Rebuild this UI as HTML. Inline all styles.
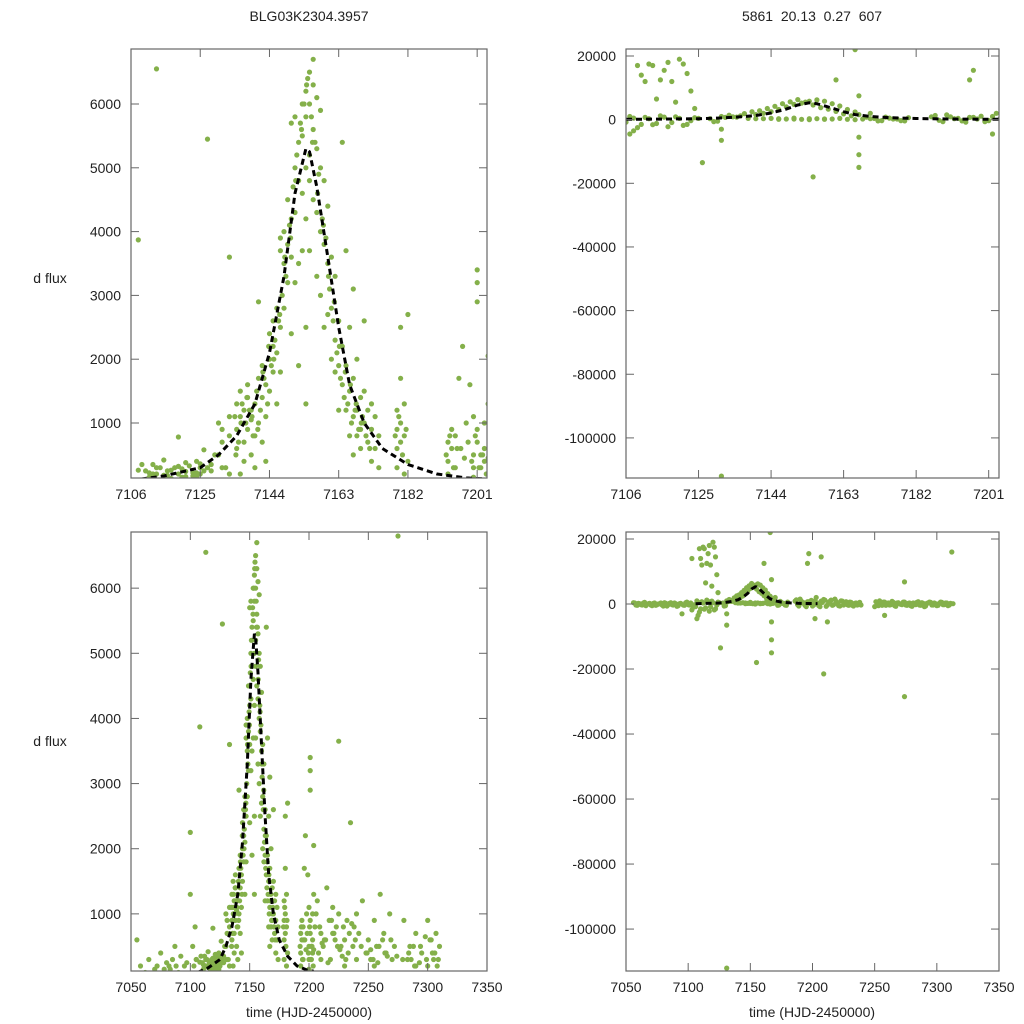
<!DOCTYPE html>
<html><head><meta charset="utf-8">
<style>
html,body{margin:0;padding:0;background:#fff;}
svg{display:block;font-family:"Liberation Sans",sans-serif;}
</style></head>
<body>
<svg id="fig" width="1024" height="1024" viewBox="0 0 1024 1024" xmlns="http://www.w3.org/2000/svg">
<text x="309" y="21" font-size="14" text-anchor="middle" fill="#222">BLG03K2304.3957</text>
<text x="812" y="21" font-size="14" text-anchor="middle" fill="#222" xml:space="preserve">5861  20.13  0.27  607</text>
<text x="50" y="283" font-size="14" text-anchor="middle" fill="#222">d flux</text>
<text x="50" y="746" font-size="14" text-anchor="middle" fill="#222">d flux</text>
<text x="309" y="1017" font-size="14" text-anchor="middle" fill="#222">time (HJD-2450000)</text>
<text x="812" y="1017" font-size="14" text-anchor="middle" fill="#222">time (HJD-2450000)</text>
</svg>
<script>
// ---- main light curve (left panels) ----
const mainT = [7055,7058,7062,7065,7070,7072,7075,7078,7080,7082,7083,7085,7087,7088,7090,7092,7095,7097,7100,7100,7102,7103,7104,7105,
7108,7110,7111,7112,7113,7114,7115,7115,7116,7117,7118,7119,7120,7121,7122,7123,7124,7124,7125,7125,7126,7113,7119,7121,7126,7127,7128,7130,7131,7130,7131,7133,7133,7133,
7135,7135,7135,7136,7136,7136,7137,7137,7137,7138,7138,7138,7139,7139,7139,7140,7140,7140,7141,7141,7141,7142,7142,7142,7143,7143,7143,7144,7144,7144,7145,7145,7145,7146,7146,7146,7147,7147,7147,7147,7148,7148,7148,7149,7149,7149,7150,7150,7150,7150,
7151,7151,7151,7151,7152,7152,7152,7152,7153,7153,7153,7153,7154,7154,7154,7154,7154,7154,7155,7155,7155,7155,7155,7156,7156,7156,7156,7157,7157,7157,7157,7158,7158,7158,7158,7159,7159,7159,7160,7160,7160,7161,7161,7161,7162,7162,7162,7163,7163,7163,
7164,7164,7164,7165,7165,7165,7166,7166,7166,7167,7167,7167,7167,7168,7168,7168,7169,7169,7169,7170,7170,7170,7171,7171,7172,7172,7172,7173,7173,7174,7174,
7179,7179,7179,7179,7180,7180,7180,7181,7181,7181,7180,7182,7182,7193,7193,7193,7194,7194,7195,7195,7196,7197,7200,7200,7200,7200,7201,7201,7201,7201,7201,7202,7202,7203,7203,7203,7204,7204,7199,7198,
7205,7207,7210,7212,7215,7217,7220,7222,7225,7225,7227,7230,7233,7235,7238,7240,7242,7245,7248,7250,7252,7255,7257,7260,7263,7265,7268,7270,7272,7275,7280,7283,7285,7290,7295,7300,7303,7305,7307,7310,
7230,7240,7255,7210,7220,7290,7300,7208,7213,7218,7223,7228,7232,7237,7252,7258,7262,7266,7286,7288,7293,7298,7304,7309,7211,7216,7221,7226,7231,7236,
7134.5,7135.5,7136.5,7137.5,7138.5,7139.5,7140.5,7141.5,7142.5,7143.5,7144.5,7145.5,7146.5,7147.5,7148.5,7149.5,7150.5,7151.5,7152.5,7153.5,7154.5,7155.5,7156.5,7157.5,7158.5,7159.5,7160.5,7161.5,7162.5,7163.5,7164.5,7165.5,7166.5,7167.5,7168.5,7169.5,7170.5,7171.5,
7134.8,7136.2,7137.8,7139.2,7140.8,7142.2,7143.8,7145.2,7146.8,7148.2,7149.8,7151.2,7152.8,7154.2,7155.8,7157.2,7158.8,7160.2,7161.8,7163.2,7164.8,7166.2,7167.8,7169.2,
7109,7111,7113,7115,7117,7119,7121,7123,7125,7127,7129,7131,7133,7178.5,7179.5,7180.5,7181.5,7192.5,7193.5,7194.5,7195.5,7198.5,7199.5,7200.5,7201.5,7202.5,7203.5,7197.5,7196.5,
7105,7108,7112,7116,7120,7124,7128,7132,7204,7206,7209,7214,7219,7224,7229,7234,7239,7244,7249,7254,7259,7264,7269,7274,7279,7284,7289,7294,7299,7302,7306,7308];
const mainF = [600,200,100,300,150,200,400,150,250,200,150,300,500,200,100,350,200,250,1300,2250,500,200,800,300,
3870,250,150,350,200,300,420,180,250,130,300,200,280,160,330,220,400,150,300,200,250,6550,780,380,580,5450,350,1000,700,500,300,3600,800,200,
1300,900,600,1500,1100,200,1200,700,400,1400,900,1600,1200,500,1050,800,1300,300,1700,1000,2900,1400,700,1900,1600,1100,400,1500,2000,2400,2600,1800,2200,2100,1300,2800,2500,1800,3700,3900,3500,2800,4000,3800,3200,4500,3600,2400,4200,5700,
4300,3200,5800,5000,4800,5400,3500,1900,5500,6000,4600,3700,6200,5800,5000,4200,1300,2500,6500,6000,5200,4800,3700,6700,6300,5600,4500,6100,5300,4300,3300,5900,5000,4000,3000,4800,3800,2500,4400,3500,2700,3600,2800,2000,3300,2300,1800,2600,1900,1200,
2200,1600,5400,1900,1200,3700,1500,2500,800,1700,1100,500,3100,1200,2000,800,1400,900,600,1000,1500,2600,1200,700,900,1300,400,1100,600,800,300,
1200,900,600,300,1000,700,1700,1300,800,200,2500,2700,400,700,400,200,900,600,800,300,1700,2200,1100,500,300,150,900,3400,3200,2900,700,500,300,1000,600,400,1300,2050,1600,1000,
800,1200,700,500,1400,900,700,600,3650,1000,500,600,400,2400,800,300,700,1200,400,600,300,900,500,1300,700,400,1000,300,500,6800,900,300,500,700,400,900,600,300,700,500,
200,1000,200,300,1100,200,200,400,600,300,800,350,900,500,450,250,600,350,300,500,250,650,400,300,550,250,700,450,300,850,
1100,700,1300,1000,1200,800,1500,1200,1700,1300,1900,2300,2600,3000,3300,4100,4700,5200,5700,6000,6400,5800,5400,4900,4200,3900,3100,2600,2100,1700,1400,1300,1000,1200,900,1100,800,600,
500,1000,1400,1100,900,1800,2200,2000,2700,3600,3900,4800,5600,6300,5400,4600,4100,3300,2900,2200,1800,1600,1300,1000,
350,220,300,180,260,320,240,170,360,300,500,900,1100,800,1100,500,900,500,800,300,600,700,400,800,300,500,200,450,600,
300,260,200,180,150,220,250,300,450,1000,800,600,900,500,800,700,600,500,400,300,500,400,600,350,300,400,200,500,300,600,400,200];
// ---- model curve ----
const modelT = [7106,7115,7125,7130,7135,7140,7144,7148,7151,7154,7155,7157,7160,7163,7166,7170,7175,7182,7190,7198,7204];
const modelF = [100,170,300,500,800,1300,2100,3300,4600,5300,5250,4700,3600,2500,1600,1000,600,350,200,140,120];
// ---- secondary band (right panels) ----
const altT = [7056,7058,7060,7062,7064,7066,7068,7070,7072,7074,7076,7078,7080,7082,7084,7086,7088,7090,7092,7094,7096,7098,7100,7102,7104,
7106,7108,7110,7112,7114,7116,7118,7120,7122,7124,7128,7130,7132,7134,7136,7138,7140,7142,7144,7146,7148,7150,7152,7154,7156,7158,7160,7162,7164,7166,7146,7150,7154,7158,7162,7166,7170,
7170,7172,7174,7176,7178,7180,7186,7188,7190,7192,7194,7196,7198,7200,7202,7204,7206,7208,7210,7212,7214,7216,7218,7220,7222,7224,7226,7228,7230,7232,7234,7236,7238,
7250,7252,7254,7256,7258,7260,7262,7264,7266,7268,7270,7272,7274,7276,7278,7280,7282,7284,7286,7288,7290,7292,7294,7296,7298,7300,7302,7304,7306,7308,7310,7312,
7109,7110,7112,7113,7116,7117,7120,7121,7122,7123,7111,7114,7115,7118,7119,7124,7108,7107,7126,7131,7131,7131,7155,7161,7167,7167,7167,7167,7166,7197,7196,7209,7212,7202,7207,7274,7274,7258,7095,7103,7105,
7057,7059,7061,7063,7065,7067,7069,7071,7073,7075,7077,7079,7081,7083,7085,7087,7089,7091,7093,7097,7099,7101,7103,7107,7109,7111,7113,7115,7117,7119,7121,7123,7125,7129,7131,7133,7135,7137,7139,7141,7143,7145,7147,7149,7151,7153,7155,7157,7159,7161,7163,7165,7167,7169,7171,7173,7175,7177,7179,7187,7189,7191,7193,7195,7197,7199,7201,7203,7205,7207,7209,7211,7213,7215,7217,7219,7221,7223,7225,7227,7229,7231,7233,7235,7237,7239,
7251,7253,7255,7257,7259,7261,7263,7265,7267,7269,7271,7273,7275,7277,7279,7281,7283,7285,7287,7289,7291,7293,7295,7297,7299,7301,7303,7305,7307,7309,7311,7313,
7140,7144,7148,7152,7156,7160,7164,7168,7142,7146,7150,7154,7158,7162];
const altF = [400,-300,200,-200,300,-500,100,-300,200,-400,0,300,-600,200,-200,400,-300,100,-500,200,-300,400,-200,300,-1000,
-800,500,-1500,300,-1200,800,-900,400,-1500,600,300,-500,700,900,1200,400,1600,2000,2500,3200,4000,4800,5200,5800,6200,5800,5000,4300,3200,2400,300,500,0,200,400,0,2000,
300,-400,800,200,-300,600,900,-200,1500,300,-400,700,200,-600,1000,300,-800,500,1200,-300,800,-400,1500,200,-600,900,300,-200,600,-400,200,-300,
500,-800,300,1000,-400,600,200,-300,800,-500,300,100,-200,600,-400,300,-700,200,500,-300,400,-800,200,600,-300,300,-500,200,500,-200,300,-300,
16000,17000,14000,17500,17000,15500,18000,19000,17500,14500,9000,12000,6500,12500,12000,5500,3500,-3500,-4500,-13500,-6500,-112000,-3000,-18000,12500,-5500,-11000,-15000,7500,22000,15500,12500,-21500,-5500,-4500,14500,-28500,6800,-3500,-3000,14000,
-200,300,-400,100,-300,500,-100,200,-500,300,-200,100,-300,400,-600,200,-200,300,-700,100,-400,600,-300,-1800,1000,-2500,700,-1600,1200,-2200,900,-1800,-300,400,-600,1000,1400,800,1900,2500,2800,3500,4200,5000,5600,6300,5500,4600,3800,3300,2600,1800,1200,1600,800,400,-300,500,200,-400,1300,-600,900,400,-800,700,1100,-300,2000,-500,900,1400,-700,600,1200,-200,800,-500,1000,-300,700,-400,500,-600,300,200,
-300,700,-500,200,600,-400,300,-200,500,-700,400,-100,600,-300,200,-500,300,-200,700,-400,200,-600,300,500,-300,100,-400,600,-200,300,-500,200,
100,300,400,200,100,300,200,100,200,300,100,200,300,100];

const NS='http://www.w3.org/2000/svg';
const svg=document.getElementById('fig');
function mk(tag,attrs,parent){const e=document.createElementNS(NS,tag);for(const k in attrs)e.setAttribute(k,attrs[k]);(parent||svg).appendChild(e);return e;}

function panel(id,box,xd,yd,xticks,yticks,T,F){
  const sx=v=>box.x0+(v-xd[0])/(xd[1]-xd[0])*(box.x1-box.x0);
  const sy=v=>box.y1-(v-yd[0])/(yd[1]-yd[0])*(box.y1-box.y0);
  const g=mk('g',{});
  
  
  const cp=mk('clipPath',{id:id+'-clip'},g);
  mk('rect',{x:box.x0,y:box.y0,width:box.x1-box.x0,height:box.y1-box.y0},cp);
  const pts=mk('g',{'clip-path':'url(#'+id+'-clip)'},g);
  
  
  const n=Math.min(T.length,F.length);
  for(let i=0;i<n;i++){
    const c=mk('circle',{cx:sx(T[i]).toFixed(1),cy:sy(F[i]).toFixed(1),r:2.6,fill:'#84b04a'},pts);
    
    
  }
  let d='';
  for(let i=0;i<modelT.length;i++){d+=(i?'L':'M')+sx(modelT[i]).toFixed(1)+','+sy(modelF[i]).toFixed(1);}
  const ln=mk('path',{d:d,fill:'none',stroke:'#000','stroke-width':3,'stroke-dasharray':'6,4','clip-path':'url(#'+id+'-clip)'},g);
  
  
  const fr=mk('rect',{x:box.x0,y:box.y0,width:box.x1-box.x0,height:box.y1-box.y0,fill:'none',stroke:'#666','stroke-width':1.2},g);
  
  
  xticks.forEach(v=>{const x=sx(v);
    mk('line',{x1:x,x2:x,y1:box.y1,y2:box.y1-8,stroke:'#666'},g);
    mk('line',{x1:x,x2:x,y1:box.y0,y2:box.y0+8,stroke:'#666'},g);
    const t=mk('text',{x:x,y:box.y1+21,'font-size':14,'text-anchor':'middle',fill:'#222'},g);t.textContent=v;
    
    
  });
  yticks.forEach(v=>{const y=sy(v);
    mk('line',{x1:box.x0,x2:box.x0+8,y1:y,y2:y,stroke:'#666'},g);
    mk('line',{x1:box.x1,x2:box.x1-8,y1:y,y2:y,stroke:'#666'},g);
    const t=mk('text',{x:box.x0-10,y:y+5,'font-size':14,'text-anchor':'end',fill:'#222'},g);t.textContent=v;
    
    
  });
}
const topX=[7106,7125,7144,7163,7182,7201];
const botX=[7050,7100,7150,7200,7250,7300,7350];
const leftY=[1000,2000,3000,4000,5000,6000];
const rightY=[20000,0,-20000,-40000,-60000,-80000,-100000];
panel('top-left',{x0:131,x1:487,y0:49,y1:478},[7106,7203.7],[138,6862],topX,leftY,mainT,mainF);
panel('top-right',{x0:626,x1:999,y0:49,y1:478},[7106,7203.7],[-112600,22200],topX,rightY,altT,altF);
panel('bottom-left',{x0:131,x1:487,y0:532,y1:971},[7050,7350],[123,6862],botX,leftY,mainT,mainF);
panel('bottom-right',{x0:626,x1:999,y0:532,y1:971},[7050,7350],[-112900,22150],botX,rightY,altT,altF);
</script>
</body></html>
